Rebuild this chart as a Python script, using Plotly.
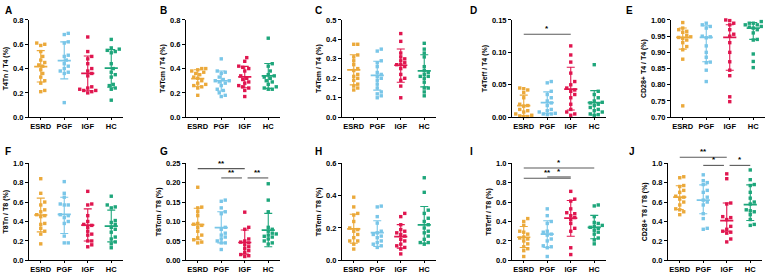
import plotly.graph_objects as go

groups = ["ESRD", "PGF", "IGF", "HC"]
colors = ["#EBA93A", "#79C6E8", "#E0164F", "#1EA67B"]

# ---- Panel A: T4Tn / T4
a_esrd = [0.61, 0.60, 0.59, 0.54, 0.50, 0.47, 0.45, 0.43, 0.42, 0.39, 0.36, 0.33, 0.30, 0.28, 0.22, 0.21]
a_pgf = [0.69, 0.68, 0.62, 0.61, 0.51, 0.50, 0.47, 0.44, 0.42, 0.40, 0.38, 0.37, 0.36, 0.12]
a_igf = [0.66, 0.54, 0.50, 0.48, 0.44, 0.40, 0.38, 0.36, 0.34, 0.25, 0.24, 0.23, 0.22, 0.21, 0.20, 0.22]
a_hc = [0.64, 0.57, 0.56, 0.55, 0.54, 0.53, 0.44, 0.40, 0.37, 0.35, 0.33, 0.27, 0.26, 0.24, 0.23, 0.14]
a_mid = [0.416, 0.466, 0.36, 0.403]
a_lo = [0.289, 0.315, 0.217, 0.246]
a_hi = [0.548, 0.62, 0.503, 0.556]

# ---- Panel B: T4Tcm / T4
b_esrd = [0.40, 0.40, 0.39, 0.38, 0.37, 0.36, 0.35, 0.33, 0.32, 0.30, 0.28, 0.27, 0.26, 0.25, 0.24, 0.18]
b_pgf = [0.48, 0.38, 0.37, 0.36, 0.33, 0.31, 0.30, 0.30, 0.29, 0.28, 0.26, 0.23, 0.22, 0.20, 0.18, 0.17]
b_igf = [0.49, 0.46, 0.42, 0.41, 0.40, 0.38, 0.34, 0.32, 0.31, 0.29, 0.28, 0.26, 0.25, 0.24, 0.22, 0.17]
b_hc = [0.65, 0.44, 0.42, 0.38, 0.35, 0.34, 0.33, 0.32, 0.30, 0.29, 0.27, 0.25, 0.24, 0.23, 0.23]
b_mid = [0.318, 0.30, 0.332, 0.34]
b_lo = [0.255, 0.216, 0.242, 0.237]
b_hi = [0.39, 0.38, 0.418, 0.442]

# ---- Panel C: T4Tem / T4
c_esrd = [0.375, 0.375, 0.32, 0.31, 0.29, 0.27, 0.25, 0.24, 0.22, 0.21, 0.20, 0.19, 0.17, 0.16, 0.15, 0.14]
c_pgf = [0.35, 0.34, 0.29, 0.28, 0.26, 0.23, 0.22, 0.21, 0.20, 0.19, 0.17, 0.15, 0.13, 0.12, 0.11, 0.10]
c_igf = [0.43, 0.39, 0.33, 0.31, 0.30, 0.29, 0.28, 0.27, 0.27, 0.26, 0.25, 0.22, 0.20, 0.19, 0.16, 0.10]
c_hc = [0.38, 0.35, 0.33, 0.31, 0.26, 0.24, 0.23, 0.22, 0.21, 0.21, 0.20, 0.18, 0.15, 0.15, 0.13, 0.11]
c_mid = [0.243, 0.215, 0.267, 0.238]
c_lo = [0.166, 0.139, 0.18, 0.156]
c_hi = [0.321, 0.288, 0.351, 0.321]

# ---- Panel D: T4Teff / T4
d_esrd = [0.045, 0.044, 0.042, 0.038, 0.030, 0.020, 0.018, 0.017, 0.012, 0.010, 0.008, 0.005, 0.003, 0.002, 0.001, 0.001]
d_pgf = [0.055, 0.053, 0.040, 0.035, 0.030, 0.025, 0.022, 0.018, 0.012, 0.010, 0.008, 0.006, 0.005, 0.005, 0.004]
d_igf = [0.110, 0.096, 0.085, 0.068, 0.055, 0.050, 0.045, 0.042, 0.040, 0.035, 0.030, 0.020, 0.012, 0.008, 0.005, 0.003]
d_hc = [0.081, 0.040, 0.035, 0.030, 0.025, 0.023, 0.022, 0.020, 0.018, 0.015, 0.012, 0.010, 0.008, 0.005, 0.004, 0.003]
d_mid = [0.0177, 0.0226, 0.0433, 0.0226]
d_lo = [0.002, 0.006, 0.011, 0.0034]
d_hi = [0.034, 0.039, 0.077, 0.041]

# ---- Panel E: CD28+ T4 / T4
e_esrd = [0.992, 0.975, 0.970, 0.965, 0.962, 0.953, 0.948, 0.946, 0.943, 0.938, 0.930, 0.918, 0.908, 0.879, 0.735]
e_pgf = [0.990, 0.985, 0.980, 0.975, 0.950, 0.948, 0.945, 0.920, 0.900, 0.885, 0.870, 0.868, 0.845, 0.810]
e_igf = [1.000, 0.998, 0.990, 0.985, 0.970, 0.956, 0.950, 0.930, 0.900, 0.871, 0.845, 0.828, 0.763, 0.748]
e_hc = [0.995, 0.990, 0.990, 0.985, 0.985, 0.980, 0.978, 0.975, 0.970, 0.960, 0.940, 0.938, 0.895, 0.872, 0.853]
e_mid = [0.946, 0.946, 0.946, 0.975]
e_lo = [0.91, 0.871, 0.845, 0.94]
e_hi = [0.975, 0.982, 0.985, 0.992]

# ---- Panel F: T8Tn / T8
f_esrd = [0.84, 0.69, 0.60, 0.57, 0.52, 0.50, 0.47, 0.46, 0.45, 0.38, 0.37, 0.33, 0.30, 0.27, 0.17]
f_pgf = [0.81, 0.69, 0.65, 0.58, 0.57, 0.57, 0.47, 0.46, 0.44, 0.40, 0.38, 0.25, 0.18, 0.18]
f_igf = [0.71, 0.58, 0.57, 0.46, 0.40, 0.37, 0.36, 0.34, 0.30, 0.27, 0.26, 0.20, 0.20, 0.16, 0.14]
f_hc = [0.66, 0.57, 0.55, 0.54, 0.41, 0.39, 0.37, 0.34, 0.32, 0.29, 0.24, 0.22, 0.19, 0.17, 0.13]
f_mid = [0.467, 0.473, 0.363, 0.353]
f_lo = [0.293, 0.277, 0.20, 0.19]
f_hi = [0.64, 0.65, 0.53, 0.517]

# ---- Panel G: T8Tcm / T8
g_esrd = [0.188, 0.137, 0.135, 0.125, 0.115, 0.095, 0.093, 0.090, 0.085, 0.075, 0.065, 0.058, 0.053, 0.047, 0.045]
g_pgf = [0.155, 0.152, 0.135, 0.125, 0.120, 0.085, 0.080, 0.070, 0.065, 0.060, 0.055, 0.050, 0.045, 0.045, 0.028]
g_igf = [0.124, 0.085, 0.080, 0.055, 0.050, 0.047, 0.045, 0.040, 0.035, 0.030, 0.025, 0.020, 0.015, 0.012, 0.010]
g_hc = [0.197, 0.155, 0.125, 0.085, 0.080, 0.075, 0.070, 0.068, 0.065, 0.062, 0.060, 0.055, 0.050, 0.045, 0.042]
g_mid = [0.092, 0.0845, 0.046, 0.078]
g_lo = [0.053, 0.045, 0.016, 0.035]
g_hi = [0.134, 0.125, 0.078, 0.121]

# ---- Panel H: T8Tem / T8
h_esrd = [0.39, 0.33, 0.29, 0.28, 0.24, 0.20, 0.19, 0.18, 0.16, 0.14, 0.12, 0.12, 0.10, 0.07]
h_pgf = [0.335, 0.33, 0.27, 0.23, 0.18, 0.17, 0.16, 0.15, 0.14, 0.12, 0.11, 0.10, 0.09, 0.08]
h_igf = [0.29, 0.27, 0.22, 0.19, 0.18, 0.17, 0.16, 0.15, 0.13, 0.12, 0.10, 0.09, 0.08, 0.07, 0.04]
h_hc = [0.51, 0.42, 0.31, 0.29, 0.26, 0.24, 0.22, 0.20, 0.18, 0.17, 0.15, 0.13, 0.11, 0.11, 0.10]
h_mid = [0.195, 0.171, 0.147, 0.219]
h_lo = [0.106, 0.086, 0.076, 0.106]
h_hi = [0.285, 0.245, 0.221, 0.333]

# ---- Panel I: T8Teff / T8
i_esrd = [0.43, 0.40, 0.36, 0.30, 0.29, 0.27, 0.24, 0.23, 0.22, 0.20, 0.17, 0.14, 0.12, 0.10, 0.04]
i_pgf = [0.53, 0.46, 0.40, 0.38, 0.30, 0.29, 0.27, 0.26, 0.22, 0.20, 0.15, 0.14, 0.13, 0.04]
i_igf = [0.71, 0.63, 0.61, 0.53, 0.49, 0.48, 0.46, 0.44, 0.42, 0.38, 0.33, 0.30, 0.13, 0.06]
i_hc = [0.57, 0.56, 0.45, 0.39, 0.38, 0.36, 0.35, 0.34, 0.33, 0.31, 0.29, 0.27, 0.23, 0.21, 0.17]
i_mid = [0.238, 0.27, 0.434, 0.34]
i_lo = [0.132, 0.132, 0.248, 0.222]
i_hi = [0.348, 0.407, 0.616, 0.463]

# ---- Panel J: CD28+ T8 / T8
j_esrd = [0.86, 0.85, 0.77, 0.76, 0.72, 0.70, 0.66, 0.65, 0.63, 0.60, 0.57, 0.53, 0.52, 0.50, 0.47]
j_pgf = [0.88, 0.82, 0.80, 0.78, 0.72, 0.70, 0.65, 0.62, 0.60, 0.57, 0.48, 0.43, 0.33, 0.32]
j_igf = [0.89, 0.84, 0.59, 0.58, 0.45, 0.44, 0.42, 0.35, 0.32, 0.30, 0.29, 0.28, 0.22, 0.19]
j_hc = [0.93, 0.83, 0.78, 0.77, 0.70, 0.64, 0.60, 0.58, 0.52, 0.51, 0.50, 0.47, 0.42, 0.37, 0.36]
j_mid = [0.65, 0.62, 0.41, 0.573]
j_lo = [0.523, 0.48, 0.30, 0.41]
j_hi = [0.767, 0.777, 0.59, 0.777]

# significance brackets: (group a, group b, height, label)
d_sig = [(0, 2, 0.128, "*")]
g_sig = [(0, 2, 0.236, "**"), (1, 2, 0.212, "**"), (2, 3, 0.212, "**")]
i_sig = [(0, 3, 0.95, "*"), (0, 2, 0.845, "**"), (1, 2, 0.858, "*")]
j_sig = [(0, 2, 1.06, "**"), (1, 2, 0.977, "*"), (2, 3, 0.977, "*")]

letters = list("ABCDEFGHIJ")
y_titles = ["T4Tn / T4 (%)", "T4Tcm / T4 (%)", "T4Tem / T4 (%)", "T4Teff / T4 (%)", "CD28+ T4 / T4 (%)",
            "T8Tn / T8 (%)", "T8Tcm / T8 (%)", "T8Tem / T8 (%)", "T8Teff / T8 (%)", "CD28+ T8 / T8 (%)"]
y_ranges = [(0, 0.8), (0, 0.8), (0, 0.5), (0, 0.15), (0.70, 1.00),
            (0, 1.0), (0, 0.25), (0, 0.6), (0, 1.0), (0, 1.0)]
y_dticks = [0.2, 0.2, 0.1, 0.05, 0.05, 0.2, 0.05, 0.2, 0.2, 0.2]
y_formats = [".1f", ".1f", ".1f", ".2f", ".2f", ".1f", ".2f", ".1f", ".1f", ".1f"]

panels = [
    ([a_esrd, a_pgf, a_igf, a_hc], a_mid, a_lo, a_hi, []),
    ([b_esrd, b_pgf, b_igf, b_hc], b_mid, b_lo, b_hi, []),
    ([c_esrd, c_pgf, c_igf, c_hc], c_mid, c_lo, c_hi, []),
    ([d_esrd, d_pgf, d_igf, d_hc], d_mid, d_lo, d_hi, d_sig),
    ([e_esrd, e_pgf, e_igf, e_hc], e_mid, e_lo, e_hi, []),
    ([f_esrd, f_pgf, f_igf, f_hc], f_mid, f_lo, f_hi, []),
    ([g_esrd, g_pgf, g_igf, g_hc], g_mid, g_lo, g_hi, g_sig),
    ([h_esrd, h_pgf, h_igf, h_hc], h_mid, h_lo, h_hi, []),
    ([i_esrd, i_pgf, i_igf, i_hc], i_mid, i_lo, i_hi, i_sig),
    ([j_esrd, j_pgf, j_igf, j_hc], j_mid, j_lo, j_hi, j_sig),
]

# layout geometry (pixels)
W, H = 777, 277
axis_left = [29, 186, 342, 512, 671, 29, 186, 342, 512, 668]
axis_w = 94
row_top = [16.5, 164.5]
row_bot = [117, 265]
letter_pos = [(3, 7), (158, 7), (313, 7), (468, 7), (624, 7),
              (3, 152), (158, 152), (313, 152), (468, 152), (627, 152)]
XR = (-0.5, 3.5)

FONT = "Liberation Sans, Arial, sans-serif"


def swarm(vals, ppu_y, ppu_x, d=4.0):
    placed = []
    offs = [0.0] * len(vals)
    order = sorted(range(len(vals)), key=lambda i: vals[i])
    cands = [0.0]
    for s in range(1, 30):
        cands += [s * d * 0.5, -s * d * 0.5]
    for i in order:
        y = vals[i] * ppu_y
        chosen = 0.0
        for c in cands:
            if all((c - px) ** 2 + (y - py) ** 2 >= d * d for px, py in placed):
                chosen = c
                break
        placed.append((chosen, y))
        offs[i] = chosen / ppu_x
    return offs


fig = go.Figure()
layout = dict(width=W, height=H, margin=dict(l=0, r=0, t=0, b=0),
              paper_bgcolor="white", plot_bgcolor="white", showlegend=False,
              font=dict(family=FONT, color="black"))
shapes = []
annotations = []

for k, (series, mids, los, his, sigs) in enumerate(panels):
    n = k + 1
    row = 0 if k < 5 else 1
    xs = "x" if n == 1 else f"x{n}"
    ys = "y" if n == 1 else f"y{n}"
    x0 = axis_left[k]
    y0, y1 = y_ranges[k]
    plot_h = row_bot[row] - row_top[row]
    ppu_y = plot_h / (y1 - y0)
    ppu_x = axis_w / (XR[1] - XR[0])

    for g, vals in enumerate(series):
        offs = swarm(vals, ppu_y, ppu_x)
        fig.add_trace(go.Scatter(
            x=[g + o for o in offs], y=vals, mode="markers", xaxis=xs, yaxis=ys,
            marker=dict(symbol="square", size=3.4, color=colors[g], line=dict(width=0)),
            cliponaxis=False, hoverinfo="skip"))
        # error bar (centre with range)
        fig.add_trace(go.Scatter(
            x=[g], y=[mids[g]], mode="markers", xaxis=xs, yaxis=ys,
            marker=dict(size=1, color="rgba(0,0,0,0)"),
            error_y=dict(type="data", symmetric=False, array=[his[g] - mids[g]],
                         arrayminus=[mids[g] - los[g]], width=4, thickness=1.1, color=colors[g]),
            cliponaxis=False, hoverinfo="skip"))
        # centre line
        fig.add_trace(go.Scatter(
            x=[g - 0.28, g + 0.28], y=[mids[g], mids[g]], mode="lines", xaxis=xs, yaxis=ys,
            line=dict(color=colors[g], width=1.7), hoverinfo="skip"))

    xd = [x0 / W, (x0 + axis_w) / W]
    yd = [1 - row_bot[row] / H, 1 - row_top[row] / H]
    layout["xaxis" if n == 1 else f"xaxis{n}"] = dict(
        domain=xd, anchor=ys, range=list(XR), tickvals=list(range(len(groups))), ticktext=groups,
        showline=True, linecolor="black", linewidth=1, ticks="outside", ticklen=2, tickwidth=1,
        tickcolor="black", showgrid=False, zeroline=False,
        tickfont=dict(size=7.5, family=FONT, weight="bold", color="black"))
    layout["yaxis" if n == 1 else f"yaxis{n}"] = dict(
        domain=yd, anchor=xs, range=[y0, y1], dtick=y_dticks[k], tick0=y0, tickformat=y_formats[k],
        showline=True, linecolor="black", linewidth=1, ticks="outside", ticklen=3, tickwidth=1,
        tickcolor="black", showgrid=False, zeroline=False,
        tickfont=dict(size=7.5, family=FONT, weight="bold", color="black"),
        title=dict(text=y_titles[k], standoff=3,
                   font=dict(size=7, family=FONT, weight="bold", color="black")))

    # panel letter
    lx, ly = letter_pos[k]
    annotations.append(dict(text=letters[k], xref="paper", yref="paper", x=lx / W, y=1 - ly / H,
                            xanchor="left", yanchor="middle", showarrow=False,
                            font=dict(size=10, family=FONT, weight="bold", color="black")))

    # significance brackets
    for (ga, gb, hgt, lab) in sigs:
        xa, xb = float(ga), float(gb)
        for (oa, ob, oh, _) in sigs:
            if (oa, ob) == (ga, gb) or abs(oh - hgt) > 1e-9:
                continue
            if ob == ga:
                xa += 0.12
            if oa == gb:
                xb -= 0.12
        fa = (xa - XR[0]) / (XR[1] - XR[0])
        fb = (xb - XR[0]) / (XR[1] - XR[0])
        fy = (hgt - y0) / (y1 - y0)
        shapes.append(dict(type="line", xref=f"{xs} domain", yref=f"{ys} domain",
                           x0=fa, x1=fb, y0=fy, y1=fy, line=dict(color="#5a5a5a", width=1.1)))
        annotations.append(dict(text=lab, xref=f"{xs} domain", yref=f"{ys} domain",
                                x=(fa + fb) / 2, y=fy, xanchor="center", yanchor="bottom",
                                yshift=-1, showarrow=False,
                                font=dict(size=8, family=FONT, weight="bold", color="black")))

layout["shapes"] = shapes
layout["annotations"] = annotations
fig.update_layout(**layout)
fig.write_html("out.html")
